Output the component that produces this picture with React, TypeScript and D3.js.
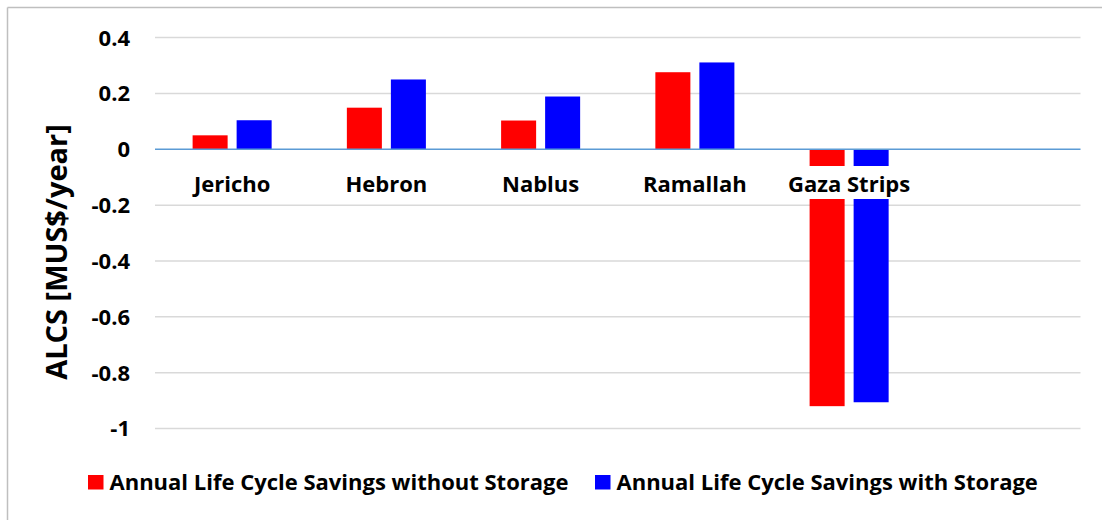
import React from "react";
import * as d3 from "d3";

const categories = ["Jericho", "Hebron", "Nablus", "Ramallah", "Gaza Strips", ""];
const seriesNames = [
  "Annual Life Cycle Savings without Storage",
  "Annual Life Cycle Savings with Storage",
];
const withoutStorage = [0.05, 0.149, 0.103, 0.276, -0.92, null];
const withStorage = [0.104, 0.25, 0.189, 0.311, -0.906, null];
const yTicks = [0.4, 0.2, 0, -0.2, -0.4, -0.6, -0.8, -1];
const colors = ["#ff0000", "#0000ff"];

const W = 1102;
const H = 520;
const FONT = "'Open Sans', 'Liberation Sans', sans-serif";

const fmt = (t: number) => String(Math.round(t * 10) / 10);

export default function App() {
  const x = d3.scaleBand<string>().domain(categories.map((c, i) => String(i))).range([155, 1080.5]);
  const sub = d3
    .scaleBand<string>()
    .domain(["0", "1"])
    .range([0, x.bandwidth()])
    .paddingInner(0.2045)
    .paddingOuter(0.8545);
  const y = d3.scaleLinear().domain([-1, 0.4]).range([428.5, 37.6]);
  const series = [withoutStorage, withStorage];

  return (
    <svg width={W} height={H} style={{ display: "block", position: "absolute", left: 0, top: 0 }}>
      <rect x={0} y={0} width={W} height={H} fill="#fff" />
      <line x1={7.5} y1={7.5} x2={W} y2={7.5} stroke="#bfbfbf" strokeWidth={1.5} />
      <line x1={7.5} y1={7.5} x2={7.5} y2={H} stroke="#bfbfbf" strokeWidth={1.5} />
      {yTicks.filter((t) => t !== 0).map((t) => (
        <line key={t} x1={155} x2={1080.5} y1={y(t)} y2={y(t)} stroke="#d9d9d9" strokeWidth={1.5} />
      ))}
      {yTicks.map((t) => (
        <text
          key={"l" + t}
          x={130}
          y={y(t)}
          dy="0.36em"
          textAnchor="end"
          fontFamily={FONT}
          fontWeight="bold"
          fontSize={22}
          fill="#000"
        >
          {fmt(t)}
        </text>
      ))}
      {series.map((s, si) =>
        s.map((v, i) =>
          v === null ? null : (
            <rect
              key={si + "-" + i}
              x={(x(String(i)) as number) + (sub(String(si)) as number)}
              width={sub.bandwidth()}
              y={Math.min(y(v), y(0))}
              height={Math.abs(y(v) - y(0))}
              fill={colors[si]}
            />
          )
        )
      )}
      <line x1={155} x2={1080.5} y1={y(0)} y2={y(0)} stroke="#5b9bd5" strokeWidth={1.5} />
      {categories.map((c, i) =>
        c ? (
          <g key={"c" + i}>
            <rect
              x={(x(String(i)) as number) + x.bandwidth() / 2 - 64}
              y={166}
              width={128}
              height={33}
              fill="#fff"
            />
            <text
              x={(x(String(i)) as number) + x.bandwidth() / 2}
              y={192}
              textAnchor="middle"
              fontFamily={FONT}
              fontWeight="bold"
              fontSize={22}
              fill="#000"
            >
              {c}
            </text>
          </g>
        ) : null
      )}
      <text
        transform={`translate(67, 252) rotate(-90)`}
        textAnchor="middle"
        fontFamily={FONT}
        fontWeight="bold"
        fontSize={29}
        fill="#000"
      >
        ALCS [MUS$/year]
      </text>
      {seriesNames.map((n, i) => {
        const lx = [88, 595][i];
        return (
          <g key={"lg" + i}>
            <rect x={lx} y={475} width={15.5} height={14.5} fill={colors[i]} />
            <text x={lx + 21.5} y={490} fontFamily={FONT} fontWeight="bold" fontSize={22} fill="#000">
              {n}
            </text>
          </g>
        );
      })}
    </svg>
  );
}
